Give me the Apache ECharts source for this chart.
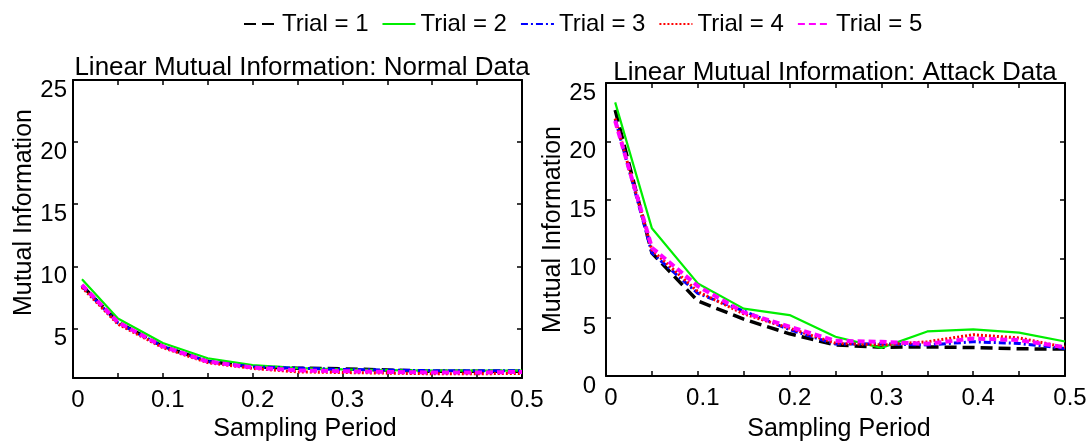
<!DOCTYPE html>
<html>
<head>
<meta charset="utf-8">
<script src="https://cdn.jsdelivr.net/npm/echarts@6/dist/echarts.min.js"></script>
<style>
html,body{margin:0;padding:0;background:#fff;}
#chart{width:1091px;height:447px;}
</style>
</head>
<body>
<div id="chart"></div>
<script>
// ---- data ----
const samplingPeriods = [0.01, 0.05, 0.1, 0.15, 0.2, 0.25, 0.3, 0.35, 0.4, 0.45, 0.5];
const trialNames = ['Trial = 1', 'Trial = 2', 'Trial = 3', 'Trial = 4', 'Trial = 5'];
const panelTitles = ['Linear Mutual Information: Normal Data', 'Linear Mutual Information: Attack Data'];
const xAxisName = 'Sampling Period';
const yAxisName = 'Mutual Information';
const xTickLabels = [0, 0.1, 0.2, 0.3, 0.4, 0.5];
const yTickLabels = [5, 10, 15, 20, 25];

// Normal data
const normalTrial1 = [8.45, 5.5, 3.55, 2.35, 1.9, 1.8, 1.75, 1.65, 1.55, 1.55, 1.55];
const normalTrial2 = [8.95, 5.8, 3.82, 2.6, 2.05, 1.8, 1.7, 1.65, 1.6, 1.6, 1.6];
const normalTrial3 = [8.4, 5.45, 3.55, 2.35, 1.9, 1.8, 1.7, 1.65, 1.6, 1.6, 1.6];
const normalTrial4 = [8.3, 5.35, 3.45, 2.25, 1.78, 1.5, 1.45, 1.4, 1.35, 1.35, 1.38];
const normalTrial5 = [8.5, 5.5, 3.55, 2.33, 1.85, 1.62, 1.55, 1.5, 1.45, 1.45, 1.5];

// Attack data
const attackTrial1 = [22.7, 10.5, 6.4, 4.85, 3.6, 2.65, 2.45, 2.48, 2.43, 2.32, 2.3];
const attackTrial2 = [23.35, 12.6, 7.9, 5.75, 5.2, 3.35, 2.4, 3.8, 3.98, 3.7, 2.94];
const attackTrial3 = [21.9, 10.5, 7.05, 5.55, 3.95, 2.72, 2.75, 2.65, 2.92, 2.78, 2.35];
const attackTrial4 = [21.97, 10.75, 7.2, 5.3, 4.07, 2.8, 2.65, 2.92, 3.52, 3.25, 2.45];
const attackTrial5 = [21.77, 10.95, 7.67, 5.43, 4.2, 3.0, 2.92, 2.75, 3.2, 3.06, 2.45];

// ---- styles ----
const FONT = '"Liberation Sans", Arial, Helvetica, sans-serif';
const trialStyles = [
  {color: '#000000', width: 3.5, type: [12, 6]},
  {color: '#00ee00', width: 2.2, type: 'solid'},
  {color: '#0000ff', width: 3, type: [7, 3, 2, 3]},
  {color: '#ff0000', width: 3, type: [2, 2]},
  {color: '#ff00ff', width: 4, type: [7, 4]}
];

const normalSets = [normalTrial1, normalTrial2, normalTrial3, normalTrial4, normalTrial5];
const attackSets = [attackTrial1, attackTrial2, attackTrial3, attackTrial4, attackTrial5];

function pairs(ys) { return samplingPeriods.map((x, i) => [x, ys[i]]); }

const series = [];
[normalSets, attackSets].forEach((sets, g) => {
  sets.forEach((ys, i) => {
    series.push({
      type: 'line',
      name: trialNames[i],
      xAxisIndex: g * 2,
      yAxisIndex: g * 2,
      data: pairs(ys),
      symbol: 'none',
      showSymbol: false,
      lineStyle: trialStyles[i],
      itemStyle: {color: trialStyles[i].color},
      z: 2 + i
    });
  });
});

const tickStyle = {inside: true, length: 5, lineStyle: {color: '#000', width: 1.5}};
const lineStyle = {show: true, onZero: false, lineStyle: {color: '#000', width: 2}};

function xAxes(gridIndex, nameGap, namePad) {
  return [
    {
      type: 'value', gridIndex, min: 0, max: 0.5, interval: 0.05, position: 'bottom',
      axisLine: lineStyle, axisTick: tickStyle, splitLine: {show: false},
      axisLabel: {customValues: xTickLabels, color: '#000', fontSize: 24, fontFamily: FONT, margin: 10, padding: [0, 0, 0, 10],
        formatter: v => String(Math.round(v * 10) / 10)},
      name: xAxisName, nameLocation: 'middle', nameGap: nameGap,
      nameTextStyle: {color: '#000', fontSize: 25, fontFamily: FONT, padding: namePad}
    },
    {
      type: 'value', gridIndex, min: 0, max: 0.5, interval: 0.05, position: 'top',
      axisLine: lineStyle, axisTick: tickStyle, splitLine: {show: false}, axisLabel: {show: false}
    }
  ];
}

function yAxes(gridIndex, min, labelValues, margin, nameGap, namePad) {
  return [
    {
      type: 'value', gridIndex, min: min, max: 25, position: 'left',
      axisLine: lineStyle,
      axisTick: Object.assign({customValues: labelValues}, tickStyle),
      splitLine: {show: false},
      axisLabel: {customValues: labelValues, color: '#000', fontSize: 24, fontFamily: FONT, margin: margin,
        verticalAlign: 'top', lineHeight: 20},
      name: yAxisName, nameLocation: 'middle', nameGap: nameGap, nameRotate: 90,
      nameTextStyle: {color: '#000', fontSize: 25, fontFamily: FONT, padding: namePad}
    },
    {
      type: 'value', gridIndex, min: min, max: 25, position: 'right',
      axisLine: lineStyle,
      axisTick: Object.assign({customValues: labelValues}, tickStyle),
      splitLine: {show: false}, axisLabel: {show: false}
    }
  ];
}

const option = {
  animation: false,
  backgroundColor: '#fff',
  textStyle: {fontFamily: FONT},
  legend: {
    data: trialNames, left: 238, top: 7, itemWidth: 33, itemHeight: 14, itemGap: 13,
    itemStyle: {opacity: 0, borderWidth: 0},
    textStyle: {fontSize: 24, color: '#000', fontFamily: FONT}
  },
  title: [
    {text: panelTitles[0], left: 297, top: 50, textAlign: 'center',
      textStyle: {fontSize: 26, fontWeight: 'normal', color: '#000', fontFamily: FONT}},
    {text: panelTitles[1], left: 830, top: 55, textAlign: 'center',
      textStyle: {fontSize: 26, fontWeight: 'normal', color: '#000', fontFamily: FONT}}
  ],
  grid: [
    {left: 73, top: 80, width: 449, height: 299},
    {left: 606, top: 83, width: 459, height: 303}
  ],
  xAxis: [].concat(xAxes(0, 34, [0, 0, 0, 15]), xAxes(1, 41, [0, 0, 0, 7])),
  yAxis: [].concat(
    yAxes(0, 1, yTickLabels, 6, 36, [0, 0, 0, 33]),
    yAxes(1, 0, [0].concat(yTickLabels), 10, 38, [0, 0, 0, 0])
  ),
  series: series
};

const chart = echarts.init(document.getElementById('chart'), null, {renderer: 'canvas'});
chart.setOption(option);
</script>
</body>
</html>
